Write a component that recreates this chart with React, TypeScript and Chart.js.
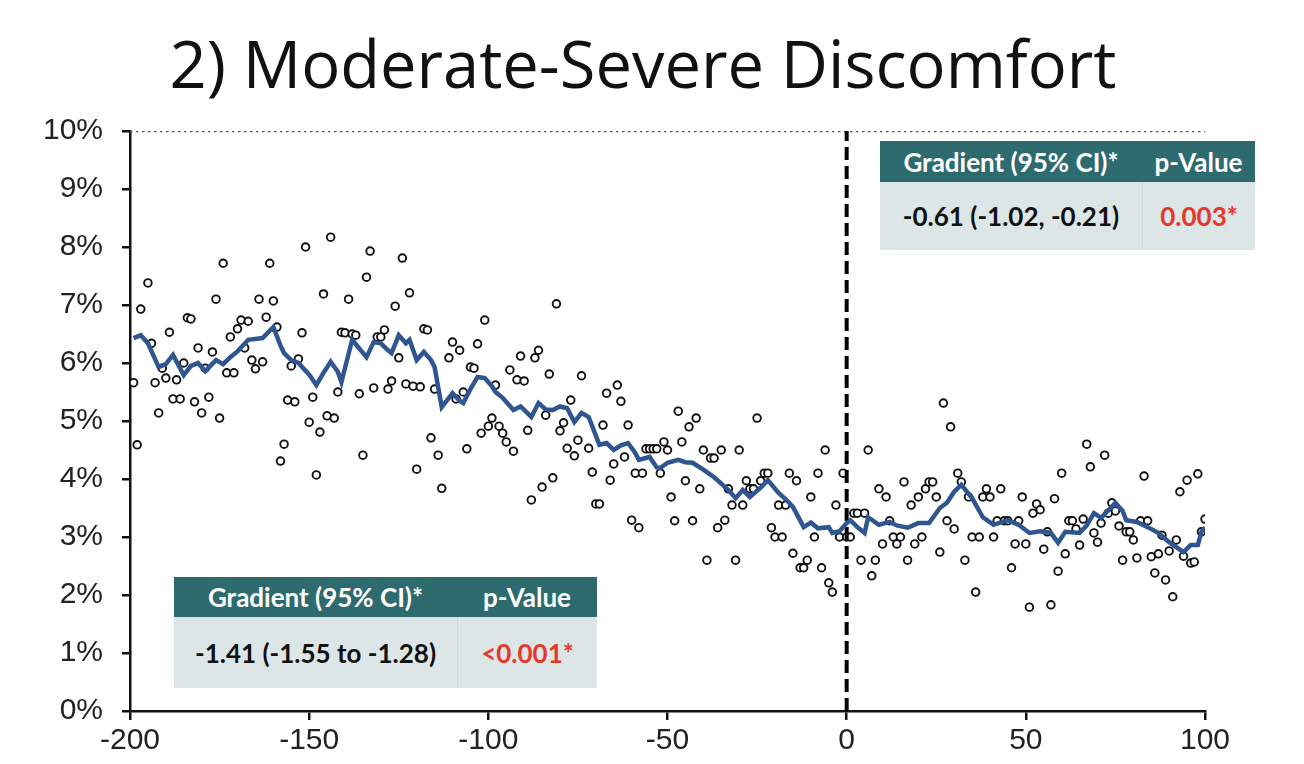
import React, { useEffect, useRef } from "react";
import { Chart, registerables } from "chart.js";

Chart.register(...registerables);

// Daily scatter observations (day relative to intervention, % moderate-severe discomfort)
const pointDays = [
  -199, -198, -197, -195, -194, -193, -192, -191, -190, -189, -188, -187, -186, -185, -184, -183,
  -182, -181, -180, -179, -178, -177, -176, -175, -174, -173, -172, -171, -170, -169, -168, -167,
  -166, -165, -164, -163, -162, -161, -160, -159, -158, -157, -156, -155, -154, -153, -152, -151,
  -150, -149, -148, -147, -146, -145, -144, -143, -142, -141, -140, -139, -138, -137, -136, -135,
  -134, -133, -132, -131, -130, -129, -128, -127, -126, -125, -124, -123, -122, -121, -120, -119,
  -118, -117, -116, -115, -114, -113, -111, -110, -109, -108, -107, -106, -105, -104, -103, -102,
  -101, -100, -99, -98, -97, -96, -95, -94, -93, -92, -91, -90, -89, -88, -87, -86,
  -85, -84, -83, -82, -81, -80, -79, -78, -77, -76, -75, -74, -72, -71, -70, -69,
  -68, -67, -66, -65, -64, -63, -62, -61, -60, -59, -58, -57, -56, -55, -54, -53,
  -52, -51, -50, -49, -48, -47, -46, -45, -44, -43, -42, -41, -40, -39, -38, -37,
  -36, -35, -34, -33, -32, -31, -30, -29, -28, -27, -26, -25, -24, -23, -22, -21,
  -20, -19, -18, -17, -16, -15, -14, -13, -12, -11, -10, -9, -8, -7, -6, -5,
  -4, -3, -2, -1, 0, 1, 2, 3, 4, 5, 6, 7, 8, 9, 10, 11,
  12, 13, 14, 15, 16, 17, 18, 19, 20, 21, 22, 23, 24, 25, 26, 27,
  28, 29, 30, 31, 32, 33, 34, 35, 36, 37, 38, 39, 40, 41, 42, 43,
  44, 45, 46, 47, 48, 49, 50, 51, 52, 53, 54, 55, 56, 57, 58, 59,
  60, 61, 62, 63, 64, 65, 66, 67, 68, 69, 70, 71, 72, 73, 74, 75,
  76, 77, 78, 79, 80, 81, 82, 83, 84, 85, 86, 87, 88, 89, 90, 91,
  92, 93, 94, 95, 96, 97, 98, 99, 100,
];

const pointValues = [
  5.66, 4.59, 6.93, 7.38, 6.34, 5.66, 5.14, 5.91, 5.74, 6.53, 5.38, 5.71, 5.38, 6.0, 6.78, 6.76,
  5.33, 6.26, 5.14, 5.91, 5.41, 6.19, 7.1, 5.05, 7.72, 5.83, 6.45, 5.83, 6.59, 6.74, 6.26, 6.72,
  6.05, 5.9, 7.1, 6.02, 6.79, 7.72, 7.07, 6.62, 4.31, 4.6, 5.36, 5.95, 5.33, 6.07, 6.52, 8.0,
  4.98, 5.41, 4.07, 4.81, 7.19, 5.09, 8.17, 5.05, 5.5, 6.53, 6.52, 7.1, 6.5, 6.48, 5.47, 4.41,
  7.48, 7.93, 5.57, 6.45, 6.45, 6.57, 5.55, 5.69, 6.98, 6.09, 7.81, 5.64, 7.21, 5.6, 4.17, 5.59,
  6.59, 6.57, 4.71, 5.55, 4.41, 3.84, 6.09, 6.36, 5.38, 6.22, 5.5, 4.52, 5.93, 5.91, 6.33, 4.79,
  6.74, 4.91, 5.05, 5.62, 4.91, 4.79, 4.64, 5.88, 4.48, 5.71, 6.12, 5.69, 4.84, 3.64, 6.09, 6.22,
  3.86, 5.1, 5.81, 4.02, 7.02, 4.83, 4.97, 4.53, 5.36, 4.4, 4.67, 5.78, 4.53, 4.12, 3.57, 3.57,
  4.93, 5.48, 3.98, 4.26, 5.62, 5.34, 4.38, 4.93, 3.29, 4.1, 3.16, 4.1, 4.52, 4.52, 4.52, 4.52,
  4.1, 4.64, 4.5, 3.69, 3.28, 5.17, 4.64, 3.97, 4.9, 3.28, 5.05, 3.83, 4.5, 2.6, 4.36, 4.36,
  3.16, 4.5, 3.29, 3.83, 3.55, 2.6, 4.5, 3.55, 3.97, 3.83, 3.83, 5.05, 3.97, 4.1, 4.1, 3.16,
  3.0, 3.55, 3.0, 3.55, 4.1, 2.72, 3.97, 2.47, 2.47, 2.6, 3.69, 3.0, 4.1, 2.47, 4.5, 2.21,
  2.05, 3.55, 3.0, 4.1, 3.0, 3.0, 3.41, 3.41, 2.6, 3.41, 4.5, 2.33, 2.6, 3.83, 2.88, 3.69,
  3.28, 3.0, 2.88, 3.0, 3.95, 2.6, 3.55, 2.88, 3.69, 3.0, 3.83, 3.95, 3.95, 3.69, 2.74, 5.31,
  3.28, 4.9, 3.14, 4.1, 3.95, 2.6, 3.69, 3.0, 2.05, 3.0, 3.69, 3.83, 3.69, 3.0, 3.28, 3.83,
  3.28, 3.28, 2.47, 2.88, 3.28, 3.69, 2.88, 1.79, 3.41, 3.57, 3.47, 2.79, 3.09, 1.83, 3.66, 2.41,
  4.1, 2.71, 3.28, 3.28, 3.14, 2.86, 3.31, 4.6, 4.21, 3.07, 2.91, 3.24, 4.41, 3.41, 3.59, 3.45,
  3.19, 2.6, 3.09, 3.09, 2.95, 2.64, 3.28, 4.05, 3.28, 2.66, 2.38, 2.71, 3.03, 2.26, 2.76, 1.97,
  2.95, 3.78, 2.67, 3.98, 2.55, 2.57, 4.09, 3.09, 3.31,
];

// Moving-average trend line
const trendDays = [
  -199, -197, -195, -192, -190, -188, -185, -183, -181, -179, -176, -174, -172, -170, -167, -163,
  -160, -158, -157, -155, -153, -150, -148, -146, -144, -142, -141, -138, -136, -134, -132, -130,
  -128, -127, -125, -123, -122, -120, -118, -116, -115, -113, -111, -110, -108, -107, -105, -103,
  -101, -99, -98, -96, -93, -91, -88, -86, -84, -82, -80, -78, -76, -74, -72, -69,
  -67, -65, -63, -61, -59, -58, -55, -53, -52, -50, -47, -45, -43, -40, -37, -35,
  -33, -31, -29, -27, -24, -22, -19, -17, -15, -12, -10, -8, -5, -4, -2, 0,
  1, 3, 5, 6, 9, 12, 14, 17, 20, 23, 26, 28, 30, 32, 35, 38,
  41, 45, 48, 51, 54, 57, 59, 61, 65, 67, 69, 71, 75, 77, 78, 81,
  84, 87, 90, 94, 96, 98, 99, 100,
];

const trendValues = [
  6.43, 6.48, 6.34, 5.93, 5.98, 6.14, 5.79, 5.95, 6.0, 5.86, 6.05, 5.98, 6.1, 6.2, 6.4, 6.43,
  6.62, 6.3, 6.17, 6.05, 6.0, 5.8, 5.62, 5.83, 6.02, 5.85, 5.67, 6.4, 6.25, 6.1, 6.36, 6.34,
  6.22, 6.17, 6.48, 6.34, 6.4, 6.05, 6.19, 6.05, 5.93, 5.24, 5.4, 5.48, 5.35, 5.31, 5.55, 5.76,
  5.74, 5.6, 5.5, 5.4, 5.19, 5.25, 5.07, 5.31, 5.2, 5.19, 5.25, 5.22, 4.98, 5.14, 5.07, 4.59,
  4.62, 4.5, 4.58, 4.62, 4.45, 4.33, 4.38, 4.2, 4.19, 4.28, 4.33, 4.29, 4.28, 4.16, 4.03, 3.92,
  3.81, 3.67, 3.81, 3.69, 3.85, 3.98, 3.76, 3.65, 3.52, 3.17, 3.25, 3.15, 3.17, 3.07, 3.1, 3.24,
  3.29, 3.17, 3.07, 3.34, 3.21, 3.26, 3.2, 3.16, 3.24, 3.24, 3.5, 3.59, 3.78, 3.9, 3.67, 3.34,
  3.21, 3.29, 3.21, 3.07, 3.1, 3.07, 2.9, 3.09, 3.07, 3.2, 3.41, 3.33, 3.59, 3.45, 3.29, 3.26,
  3.17, 3.07, 2.91, 2.74, 2.86, 2.86, 3.09, 3.17,
];

const xTicks = [-200, -150, -100, -50, 0, 50, 100];
const yTicks = [0, 1, 2, 3, 4, 5, 6, 7, 8, 9, 10];

const titleText = "2) Moderate-Severe Discomfort";
const preTable = { gradient: "-1.41 (-1.55 to -1.28)", p: "<0.001*" };
const postTable = { gradient: "-0.61 (-1.02, -0.21)", p: "0.003*" };

const HEADER_BG = "#2e6b6f";
const BODY_BG = "#dde6e7";
const RED = "#e5382c";

function StatTable(props: {
  left: number; top: number; width: number; col1: number; headH: number; bodyH: number;
  gradient: string; p: string;
}) {
  const { left, top, width, col1, headH, bodyH, gradient, p } = props;
  const cell: React.CSSProperties = {
    display: "flex", alignItems: "center", justifyContent: "center",
    fontFamily: "Lato, 'Open Sans', sans-serif", fontWeight: 700, fontSize: 26,
  };
  return (
    <div style={{ position: "absolute", left, top, width, height: headH + bodyH }}>
      <div style={{ display: "flex", height: headH, background: HEADER_BG, color: "#fff" }}>
        <div style={{ ...cell, width: col1 }}>Gradient (95% CI)*</div>
        <div style={{ ...cell, flex: 1 }}>p-Value</div>
      </div>
      <div style={{ display: "flex", height: bodyH, background: BODY_BG }}>
        <div style={{ ...cell, width: col1, color: "#111", borderRight: "1px solid #cfd9da" }}>{gradient}</div>
        <div style={{ ...cell, flex: 1, color: RED }}>{p}</div>
      </div>
    </div>
  );
}

export default function App() {
  const canvasRef = useRef<HTMLCanvasElement | null>(null);

  useEffect(() => {
    if (!canvasRef.current) return;
    const scatterData = pointDays.map((d, i) => ({ x: d, y: pointValues[i] }));
    const trendData = trendDays.map((d, i) => ({ x: d, y: trendValues[i] }));
    const chart = new Chart(canvasRef.current, {
      type: "scatter",
      data: {
        datasets: [
          {
            label: "Moving average",
            data: trendData,
            showLine: true,
            borderColor: "#2f5690",
            borderWidth: 4.5,
            pointRadius: 0,
            tension: 0,
            order: 0,
          },
          {
            label: "Daily",
            data: scatterData,
            pointRadius: 3.8,
            pointBorderWidth: 1.9,
            borderColor: "#111",
            backgroundColor: "#fff",
            pointBackgroundColor: "#fff",
            pointBorderColor: "#111",
            order: 2,
          },
          {
            label: "Intervention",
            data: [{ x: 0, y: 0 }, { x: 0, y: 10 }],
            showLine: true,
            borderColor: "#000",
            borderWidth: 4,
            borderDash: [13, 6],
            pointRadius: 0,
            order: 1,
          },
          {
            label: "Top",
            data: [{ x: -200, y: 10 }, { x: 101, y: 10 }],
            showLine: true,
            borderColor: "#1f7275",
            borderWidth: 2.5,
            borderDash: [2.5, 3.5],
            pointRadius: 0,
            order: 3,
          },
        ],
      },
      options: {
        animation: false,
        responsive: false,
        maintainAspectRatio: false,
        layout: { padding: { left: 0, top: 131, right: 99, bottom: 0 } },
        plugins: { legend: { display: false }, tooltip: { enabled: false }, title: { display: false } },
        scales: {
          x: {
            type: "linear",
            min: -200,
            max: 100,
            afterFit: (s: any) => { s.height = 53; },
            afterBuildTicks: (s: any) => { s.ticks = xTicks.map((v) => ({ value: v })); },
            ticks: {
              color: "#222",
              font: { family: "'Liberation Sans', Arial, sans-serif", size: 30 },
              padding: 3,
              callback: (v: any) => String(v),
            },
            grid: { drawOnChartArea: false, drawTicks: true, tickLength: 9, color: "#111", lineWidth: 2.5 },
            border: { display: true, color: "#111", width: 2.5 },
          },
          y: {
            type: "linear",
            min: 0,
            max: 10,
            afterFit: (s: any) => { s.width = 130; },
            afterBuildTicks: (s: any) => { s.ticks = yTicks.map((v) => ({ value: v })); },
            ticks: {
              color: "#222",
              font: { family: "'Liberation Sans', Arial, sans-serif", size: 30 },
              padding: 19,
              callback: (v: any) => v + "%",
            },
            grid: { drawOnChartArea: false, drawTicks: true, tickLength: 8, color: "#111", lineWidth: 2.5 },
            border: { display: true, color: "#111", width: 2.5 },
          },
        },
      },
    });
    return () => chart.destroy();
  }, []);

  return (
    <div style={{ position: "absolute", left: 0, top: 0, width: 1304, height: 764, background: "#fff", overflow: "hidden" }}>
      <canvas ref={canvasRef} width={1304} height={764} style={{ position: "absolute", left: 0, top: 0 }} />
      <div
        style={{
          position: "absolute", left: 0, top: 23, width: 1286, textAlign: "center", whiteSpace: "nowrap",
          fontFamily: "'Open Sans', 'Noto Sans', sans-serif", fontSize: 65, color: "#111", lineHeight: "80px",
        }}
      >
        {titleText}
      </div>
      <StatTable left={880} top={141} width={375} col1={262} headH={41} bodyH={68} gradient={postTable.gradient} p={postTable.p} />
      <StatTable left={174} top={577} width={423} col1={283} headH={40} bodyH={71} gradient={preTable.gradient} p={preTable.p} />
    </div>
  );
}
